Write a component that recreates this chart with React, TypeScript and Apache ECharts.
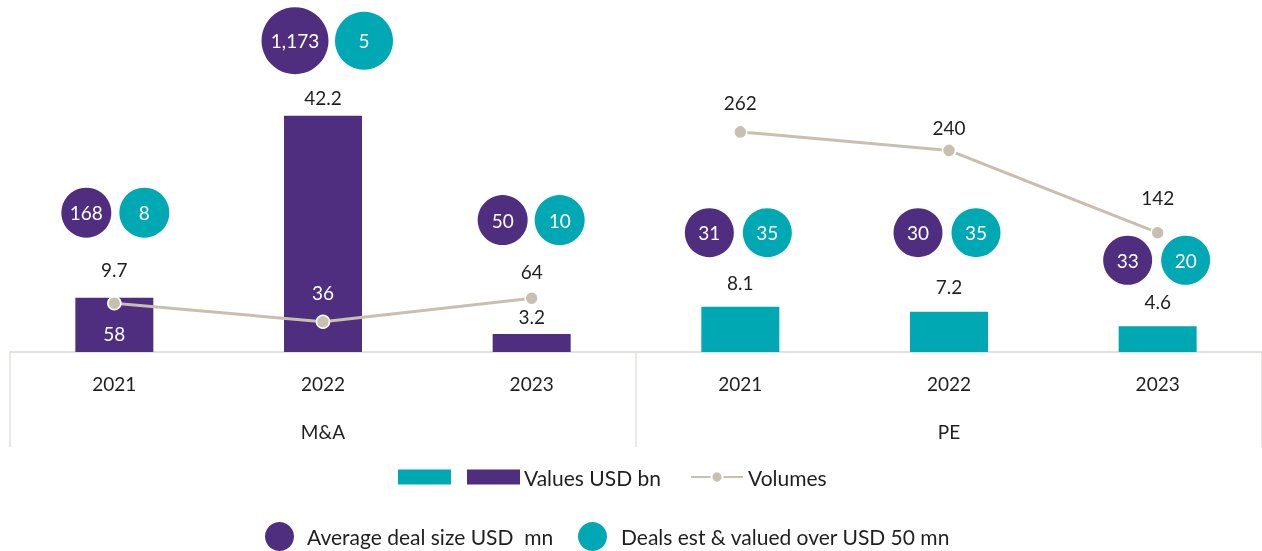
import React, { useEffect, useRef } from "react";
import * as echarts from "echarts";

// ---- data ----
const years = ["2021", "2022", "2023", "2021", "2022", "2023"];
const groups = ["M&A", "PE"];
const maValues = [9.7, 42.2, 3.2];
const peValues = [8.1, 7.2, 4.6];
const maVolumes = [58, 36, 64];
const peVolumes = [262, 240, 142];
const avgDealSize = [168, 1173, 50, 31, 30, 33];
const dealsOver50 = [8, 5, 10, 35, 35, 20];

// ---- styling / layout (not data) ----
const PURPLE = "#4F2D7F";
const TEAL = "#00A8B4";
const LINE = "#C9BFB0";
const AXIS = "#E4E1DC";
const TEXT = "#1f1f1f";
const FONT = "Lato";
const barLabelGap = [18, 8, 8, 14, 15, 15];
const lineLabelPos = ["bottom", "top", "top", "top", "top", "top"];
const lineLabelGap = [13, 12, 9, 12, 6, 18];
const bubbleLift = [85, 75, 114, 74, 79, 66];
const purpleSize = [50, 67, 50, 49, 49, 49];
const tealSize = [50, 58, 50, 49, 49, 49];
const purpleDx = [-28, -28, -29, -31, -31, -30];
const tealDx = [30, 41, 28, 27, 27, 28];

const fmt = (v: number) => v.toLocaleString("en-US");

export default function App() {
  const ref = useRef<HTMLDivElement>(null);
  useEffect(() => {
    if (!ref.current) return;
    const chart = echarts.init(ref.current, null, { renderer: "svg" });
    const barAll = [...maValues, ...peValues];
    const nil = [null, null, null];

    const barData = (vals: (number | null)[]) =>
      vals.map((v, i) =>
        v == null ? null : { value: v, label: { distance: barLabelGap[i] } }
      );
    const lineData = (vals: (number | null)[]) =>
      vals.map((v, i) => {
        if (v == null) return "-";
        return {
          value: v,
          label: {
            position: lineLabelPos[i],
            distance: lineLabelGap[i],
            color: i < 2 ? "#ffffff" : TEXT,
          },
        };
      });

    const bubbles = (vals: number[], sizes: number[], dx: number[]) =>
      vals.map((v, i) => ({
        value: [i, barAll[i]],
        symbolSize: sizes[i],
        symbolOffset: [dx[i], -bubbleLift[i]],
        label: { formatter: fmt(v) },
      }));

    const legendText = { fontSize: 21, color: TEXT, fontFamily: FONT, lineHeight: 22 };

    const option: any = {
      animation: false,
      textStyle: { fontFamily: FONT },
      grid: { left: 10, right: 0, top: 16, bottom: 199, containLabel: false },
      xAxis: [
        {
          type: "category",
          data: years,
          position: "bottom",
          axisLine: { show: true, lineStyle: { color: AXIS, width: 2 } },
          axisTick: { show: false },
          axisLabel: { margin: 22, fontSize: 19, color: TEXT, fontFamily: FONT },
        },
        {
          type: "category",
          data: groups,
          position: "bottom",
          axisLine: { show: false },
          axisTick: {
            show: true,
            length: 95,
            interval: 0,
            lineStyle: { color: AXIS, width: 1.5 },
          },
          axisLabel: { margin: 70, fontSize: 19, color: TEXT, fontFamily: FONT },
        },
      ],
      yAxis: [
        { type: "value", min: 0, max: 60, show: false, splitLine: { show: false } },
        { type: "value", min: 0, max: 400, show: false, splitLine: { show: false } },
      ],
      legend: [
        {
          data: ["PE", "Values USD bn"],
          left: 398,
          top: 466,
          padding: 0,
          icon: "rect",
          itemWidth: 53,
          itemHeight: 15,
          itemGap: 11,
          selectedMode: false,
          formatter: (n: string) => (n === "PE" ? "" : n),
          textStyle: { ...legendText, padding: [0, 0, 0, -1] },
        },
        {
          data: ["Volumes"],
          left: 690,
          top: 466,
          padding: 0,
          itemWidth: 52,
          itemHeight: 14,
          selectedMode: false,
          textStyle: legendText,
        },
        {
          data: ["Average deal size USD  mn"],
          left: 265,
          top: 522,
          padding: 0,
          itemWidth: 29,
          itemHeight: 29,
          selectedMode: false,
          textStyle: { ...legendText, padding: [0, 0, 0, 8] },
        },
        {
          data: ["Deals est & valued over USD 50 mn"],
          left: 578,
          top: 522,
          padding: 0,
          itemWidth: 29,
          itemHeight: 29,
          selectedMode: false,
          textStyle: { ...legendText, padding: [0, 0, 0, 9] },
        },
      ],
      series: [
        {
          name: "PE",
          type: "bar",
          barWidth: 78,
          barGap: "-100%",
          data: barData([...nil, ...peValues]),
          itemStyle: { color: TEAL },
          label: {
            show: true,
            position: "top",
            fontSize: 19,
            lineHeight: 20,
            color: TEXT,
            fontFamily: FONT,
          },
          z: 2,
        },
        {
          name: "Values USD bn",
          type: "bar",
          barWidth: 78,
          barGap: "-100%",
          data: barData([...maValues, ...nil]),
          itemStyle: { color: PURPLE },
          label: {
            show: true,
            position: "top",
            fontSize: 19,
            lineHeight: 20,
            color: TEXT,
            fontFamily: FONT,
          },
          z: 2,
        },
        {
          name: "Volumes",
          type: "line",
          yAxisIndex: 1,
          data: lineData([...maVolumes, ...nil]),
          symbol: "circle",
          symbolSize: 13,
          lineStyle: { color: LINE, width: 3 },
          itemStyle: { color: LINE, borderColor: "#ffffff", borderWidth: 1.5 },
          label: { show: true, fontSize: 19, lineHeight: 20, fontFamily: FONT },
          z: 3,
        },
        {
          name: "Volumes",
          type: "line",
          yAxisIndex: 1,
          data: lineData([...nil, ...peVolumes]),
          symbol: "circle",
          symbolSize: 13,
          lineStyle: { color: LINE, width: 3 },
          itemStyle: { color: LINE, borderColor: "#ffffff", borderWidth: 1.5 },
          label: { show: true, fontSize: 19, lineHeight: 20, fontFamily: FONT },
          z: 3,
        },
        {
          name: "Average deal size USD  mn",
          type: "scatter",
          symbol: "circle",
          data: bubbles(avgDealSize, purpleSize, purpleDx),
          itemStyle: { color: PURPLE, opacity: 1 },
          label: {
            show: true,
            position: "inside",
            color: "#ffffff",
            fontSize: 19,
            fontFamily: FONT,
          },
          z: 4,
        },
        {
          name: "Deals est & valued over USD 50 mn",
          type: "scatter",
          symbol: "circle",
          data: bubbles(dealsOver50, tealSize, tealDx),
          itemStyle: { color: TEAL, opacity: 1 },
          label: {
            show: true,
            position: "inside",
            color: "#ffffff",
            fontSize: 19,
            fontFamily: FONT,
          },
          z: 4,
        },
      ],
    };
    chart.setOption(option);
    return () => chart.dispose();
  }, []);

  return (
    <div
      ref={ref}
      style={{ position: "fixed", left: 0, top: 0, width: 1262, height: 551 }}
    />
  );
}
